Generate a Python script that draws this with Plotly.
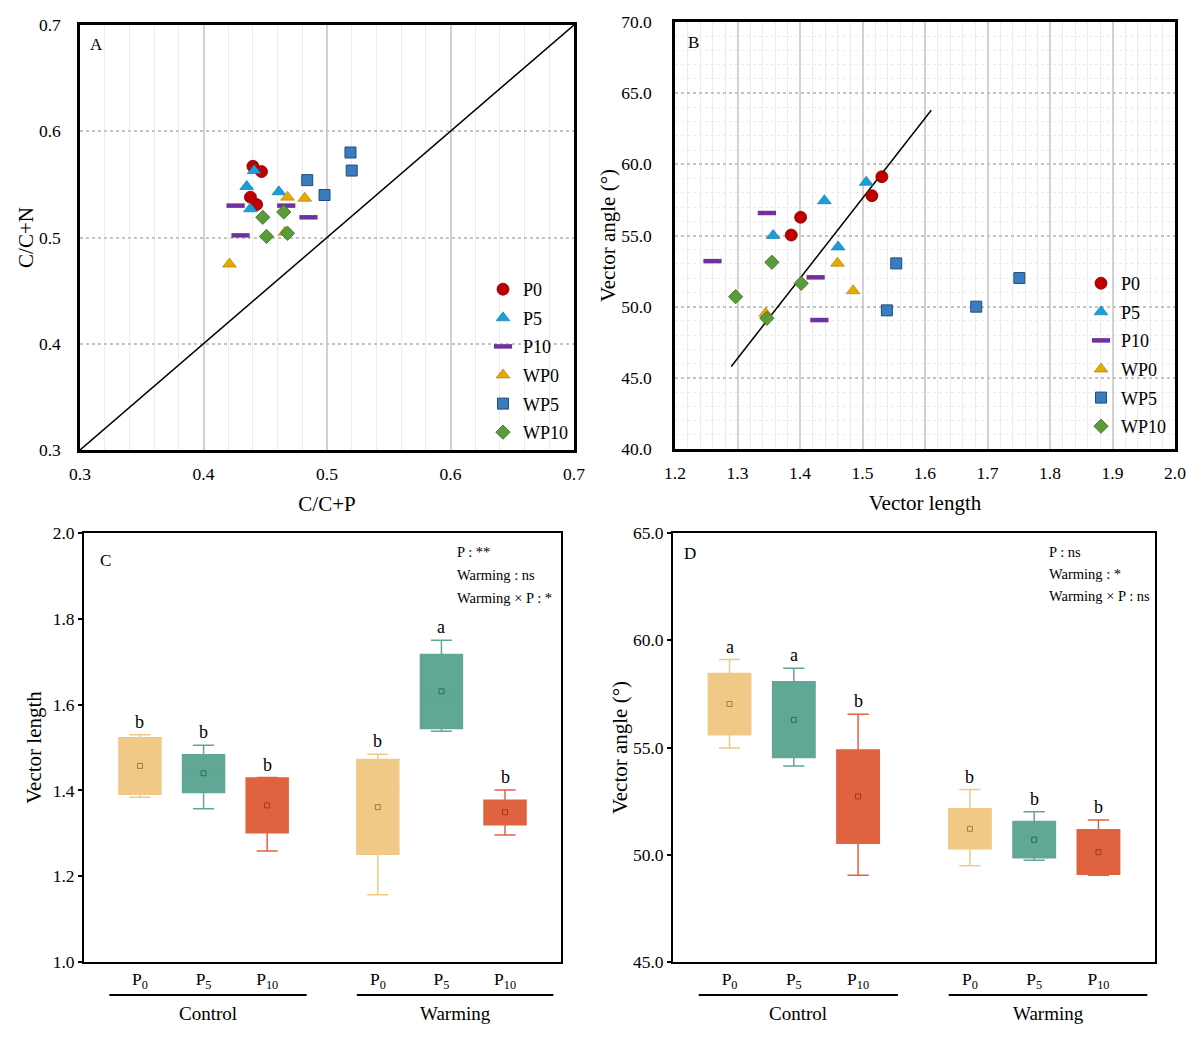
import plotly.graph_objects as go

FONT = "Liberation Serif"

# ---------------- Panel A data (C/C+P vs C/C+N) ----------------
A_P0_x = [0.440, 0.447, 0.438, 0.443]
A_P0_y = [0.567, 0.562, 0.538, 0.531]
A_P5_x = [0.441, 0.435, 0.438, 0.461]
A_P5_y = [0.563, 0.548, 0.527, 0.543]
A_P10_x = [0.426, 0.430, 0.467, 0.485]
A_P10_y = [0.530, 0.502, 0.530, 0.519]
A_WP0_x = [0.421, 0.468, 0.482, 0.466]
A_WP0_y = [0.475, 0.538, 0.537, 0.505]
A_WP5_x = [0.519, 0.520, 0.484, 0.498]
A_WP5_y = [0.580, 0.563, 0.554, 0.540]
A_WP10_x = [0.448, 0.465, 0.451, 0.468]
A_WP10_y = [0.519, 0.524, 0.501, 0.504]
A_ref_x = [0.3, 0.7]
A_ref_y = [0.3, 0.7]

# ---------------- Panel B data (vector length vs vector angle) ----------------
B_P0_x = [1.531, 1.515, 1.401, 1.386]
B_P0_y = [59.13, 57.80, 56.28, 55.03]
B_P5_x = [1.506, 1.439, 1.357, 1.461]
B_P5_y = [58.74, 57.44, 55.00, 54.20]
B_P10_x = [1.347, 1.260, 1.425, 1.431]
B_P10_y = [56.58, 53.20, 52.06, 49.06]
B_WP0_x = [1.460, 1.485, 1.345, 1.16]
B_WP0_y = [53.05, 51.12, 49.53, 51.1]
B_WP5_x = [1.554, 1.539, 1.751, 1.682]
B_WP5_y = [53.04, 49.74, 52.01, 50.00]
B_WP10_x = [1.355, 1.297, 1.402, 1.347]
B_WP10_y = [53.12, 50.70, 51.64, 49.18]
B_ref_x = [1.29, 1.61]
B_ref_y = [45.8, 63.8]

series_names = ["P0", "P5", "P10", "WP0", "WP5", "WP10"]

# ---------------- Panels C/D (box summaries) ----------------
box_ticks = ["P<sub>0</sub>", "P<sub>5</sub>", "P<sub>10</sub>",
             "P<sub>0</sub>", "P<sub>5</sub>", "P<sub>10</sub>"]
group_labels = ["Control", "Warming"]

C_upper = [1.530, 1.505, 1.430, 1.484, 1.750, 1.401]
C_q3 = [1.523, 1.483, 1.429, 1.472, 1.717, 1.377]
C_median = [1.458, 1.450, 1.378, 1.400, 1.620, 1.350]
C_q1 = [1.391, 1.395, 1.301, 1.251, 1.544, 1.320]
C_lower = [1.384, 1.357, 1.259, 1.157, 1.538, 1.296]
C_mean = [1.457, 1.440, 1.365, 1.361, 1.631, 1.349]
C_letters = ["b", "b", "b", "b", "a", "b"]
C_stats = ["P : **", "Warming : ns", "Warming × P : *"]

D_upper = [59.10, 58.69, 56.55, 53.04, 52.01, 51.62]
D_q3 = [58.45, 58.07, 54.88, 52.15, 51.55, 51.17]
D_median = [57.0, 56.3, 52.6, 51.1, 50.4, 50.0]
D_q1 = [55.60, 54.53, 50.54, 50.28, 49.86, 49.09]
D_lower = [54.98, 54.14, 49.04, 49.49, 49.74, 49.04]
D_mean = [57.03, 56.29, 52.72, 51.21, 50.70, 50.12]
D_letters = ["a", "a", "b", "b", "b", "b"]
D_stats = ["P : ns", "Warming : *", "Warming × P : ns"]

# ---------------- styling ----------------
W, H = 1200, 1041
def px_x(p): return p / W
def px_y(p): return 1 - p / H

marker_styles = {
    "P0": dict(symbol="circle", size=12, color="#c00000", line=dict(color="#7a0000", width=0.8)),
    "P5": dict(symbol="triangle-up", size=12, color="#17a0dc", line=dict(color="#0a6f9c", width=0.6)),
    "P10": dict(symbol="line-ew", size=13, color="#7030a0", line=dict(color="#7030a0", width=4.5)),
    "WP0": dict(symbol="triangle-up", size=12, color="#e8a800", line=dict(color="#a87800", width=0.6)),
    "WP5": dict(symbol="square", size=11, color="#3a7cc0", line=dict(color="#1f4e79", width=1)),
    "WP10": dict(symbol="diamond", size=11, color="#5a9c3a", line=dict(color="#3a6a22", width=0.8)),
}

A_data = {"P0": (A_P0_x, A_P0_y), "P5": (A_P5_x, A_P5_y), "P10": (A_P10_x, A_P10_y),
          "WP0": (A_WP0_x, A_WP0_y), "WP5": (A_WP5_x, A_WP5_y), "WP10": (A_WP10_x, A_WP10_y)}
B_data = {"P0": (B_P0_x, B_P0_y), "P5": (B_P5_x, B_P5_y), "P10": (B_P10_x, B_P10_y),
          "WP0": (B_WP0_x, B_WP0_y), "WP5": (B_WP5_x, B_WP5_y), "WP10": (B_WP10_x, B_WP10_y)}

fig = go.Figure()

# reference lines
fig.add_trace(go.Scatter(x=A_ref_x, y=A_ref_y, mode="lines", line=dict(color="black", width=1.5),
                         xaxis="x", yaxis="y", showlegend=False, hoverinfo="skip"))
fig.add_trace(go.Scatter(x=B_ref_x, y=B_ref_y, mode="lines", line=dict(color="black", width=1.5),
                         xaxis="x2", yaxis="y2", showlegend=False, hoverinfo="skip"))

for name in series_names:
    xs, ys = A_data[name]
    fig.add_trace(go.Scatter(x=xs, y=ys, mode="markers", name=name, marker=marker_styles[name],
                             xaxis="x", yaxis="y", legend="legend", legendgroup="A" + name))
for name in series_names:
    xs, ys = B_data[name]
    fig.add_trace(go.Scatter(x=xs, y=ys, mode="markers", name=name, marker=marker_styles[name],
                             xaxis="x2", yaxis="y2", legend="legend2", legendgroup="B" + name))

# box panels
pos = [0, 1, 2, 3.74, 4.74, 5.74]
fills = ["#f0c987", "#60a796", "#e0633f"] * 2
mean_cols = ["#a07a40", "#2f6a5c", "#9a3a22"] * 2

def add_boxes(xa, ya, q1, med, q3, lo, up, mean, letters):
    for i in range(6):
        fig.add_trace(go.Box(x=[pos[i]], q1=[q1[i]], median=[med[i]], q3=[q3[i]],
                             lowerfence=[lo[i]], upperfence=[up[i]],
                             fillcolor=fills[i], line=dict(color=fills[i], width=1.5),
                             width=0.66, whiskerwidth=0.5, boxpoints=False,
                             xaxis=xa, yaxis=ya, showlegend=False, hoverinfo="skip"))
    fig.add_trace(go.Scatter(x=pos, y=mean, mode="markers",
                             marker=dict(symbol="square-open", size=5, color=mean_cols,
                                         line=dict(width=1)),
                             xaxis=xa, yaxis=ya, showlegend=False, hoverinfo="skip"))
    for i in range(6):
        fig.add_annotation(x=pos[i], y=up[i], xref=xa, yref=ya, text=letters[i], showarrow=False,
                           yanchor="bottom", yshift=1, font=dict(family=FONT, size=18, color="black"))

add_boxes("x3", "y3", C_q1, C_median, C_q3, C_lower, C_upper, C_mean, C_letters)
add_boxes("x4", "y4", D_q1, D_median, D_q3, D_lower, D_upper, D_mean, D_letters)

tickfont = dict(family=FONT, size=17.5, color="black")
titlefont = dict(family=FONT, size=21, color="black")

def scatter_axis(domain, rng, dtick, minor_dtick, fmt, title, dotted, minor_grid=True,
                 standoff=10, tstandoff=12):
    d = dict(domain=domain, range=rng, dtick=dtick, tick0=rng[0], tickformat=fmt,
             showline=True, mirror=True, linecolor="black", linewidth=2.5,
             ticks="", tickfont=tickfont, ticklabelstandoff=standoff,
             title=dict(text=title, font=titlefont, standoff=tstandoff),
             showgrid=True, gridcolor="#d2d2d2", gridwidth=1.5, zeroline=False,
             automargin=False, fixedrange=True)
    if dotted:
        d["griddash"] = "dot"
        d["gridcolor"] = "#c4c4c4"
    if minor_grid:
        d["minor"] = dict(dtick=minor_dtick, tick0=rng[0], showgrid=True, gridcolor="#ececec", gridwidth=1)
    return d

legend_common = dict(xanchor="left", yanchor="top", bgcolor="rgba(0,0,0,0)",
                     font=dict(family=FONT, size=18, color="black"), traceorder="grouped",
                     tracegroupgap=2.2, itemwidth=30)

layout = dict(
    width=W, height=H, margin=dict(l=0, r=0, t=0, b=0),
    paper_bgcolor="white", plot_bgcolor="white",
    font=dict(family=FONT, color="black"),
    xaxis=scatter_axis([px_x(80), px_x(574)], [0.3, 0.7], 0.1, 0.02, ".1f", "C/C+P", False,
                       standoff=6, tstandoff=14),
    yaxis=scatter_axis([px_y(450), px_y(25)], [0.3, 0.7], 0.1, 0.02, ".1f", "C/C+N", True,
                       minor_grid=False, standoff=13, tstandoff=0),
    xaxis2=scatter_axis([px_x(675), px_x(1175)], [1.2, 2.0], 0.1, 0.02, ".1f", "Vector length", False,
                        standoff=6, tstandoff=14),
    yaxis2=scatter_axis([px_y(449), px_y(22)], [40, 70], 5, 1, ".1f", "Vector angle (°)", True,
                        standoff=17, tstandoff=0),
    legend=dict(x=px_x(483), y=px_y(271), **legend_common),
    legend2=dict(x=px_x(1081), y=px_y(265), **legend_common),
)

def box_axes(xdom, ydom, yrng, ydtick):
    xa = dict(domain=xdom, range=[-0.88, 6.62], tickmode="array", tickvals=pos, ticktext=box_ticks,
              showline=True, mirror=True, linecolor="black", linewidth=2, ticks="",
              tickfont=tickfont, showgrid=False, zeroline=False, automargin=False, fixedrange=True)
    ya = dict(domain=ydom, range=yrng, dtick=ydtick, tick0=yrng[0], tickformat=".1f",
              showline=True, mirror=True, linecolor="black", linewidth=2, ticks="outside", ticklen=4,
              tickwidth=1.5, tickcolor="black", tickfont=tickfont, showgrid=False, zeroline=False,
              automargin=False, fixedrange=True)
    return xa, ya

layout["xaxis3"], layout["yaxis3"] = box_axes([px_x(84), px_x(561)], [px_y(962), px_y(533)], [1.0, 2.0], 0.2)
layout["xaxis4"], layout["yaxis4"] = box_axes([px_x(673), px_x(1155)], [px_y(962), px_y(533)], [45, 65], 5)
layout["yaxis3"]["title"] = dict(text="Vector length", font=titlefont, standoff=5)
layout["yaxis4"]["title"] = dict(text="Vector angle (°)", font=titlefont, standoff=0)
layout["xaxis3"]["anchor"] = "y3"
layout["yaxis3"]["anchor"] = "x3"
layout["xaxis4"]["anchor"] = "y4"
layout["yaxis4"]["anchor"] = "x4"
layout["xaxis2"]["anchor"] = "y2"
layout["yaxis2"]["anchor"] = "x2"

fig.update_layout(**layout)

# panel letters
for txt, x, y in [("A", 97, 45), ("B", 693, 42), ("C", 105, 560), ("D", 690, 553)]:
    fig.add_annotation(x=px_x(x), y=px_y(y), xref="paper", yref="paper", text=txt, showarrow=False,
                       xanchor="center", yanchor="middle",
                       font=dict(family=FONT, size=17, color="black"))

# statistics text
for i, t in enumerate(C_stats):
    fig.add_annotation(x=px_x(455), y=px_y(552 + 23 * i), xref="paper", yref="paper", text=t,
                       showarrow=False, xanchor="left", yanchor="middle",
                       font=dict(family=FONT, size=14.5, color="black"))
for i, t in enumerate(D_stats):
    fig.add_annotation(x=px_x(1047), y=px_y(552 + 22 * i), xref="paper", yref="paper", text=t,
                       showarrow=False, xanchor="left", yanchor="middle",
                       font=dict(family=FONT, size=14.5, color="black"))

# group labels under the box panels
for xa in ["x3", "x4"]:
    for (x0, x1), lab in zip([(-0.48, 2.62), (3.41, 6.5)], group_labels):
        fig.add_shape(type="line", xref=xa, yref="paper", x0=x0, x1=x1, y0=px_y(995), y1=px_y(995),
                      line=dict(color="black", width=2))
        fig.add_annotation(x=(x0 + x1) / 2, y=px_y(1013), xref=xa, yref="paper", text=lab,
                           showarrow=False, xanchor="center", yanchor="middle",
                           font=dict(family=FONT, size=19, color="black"))

fig.write_html("out.html")
